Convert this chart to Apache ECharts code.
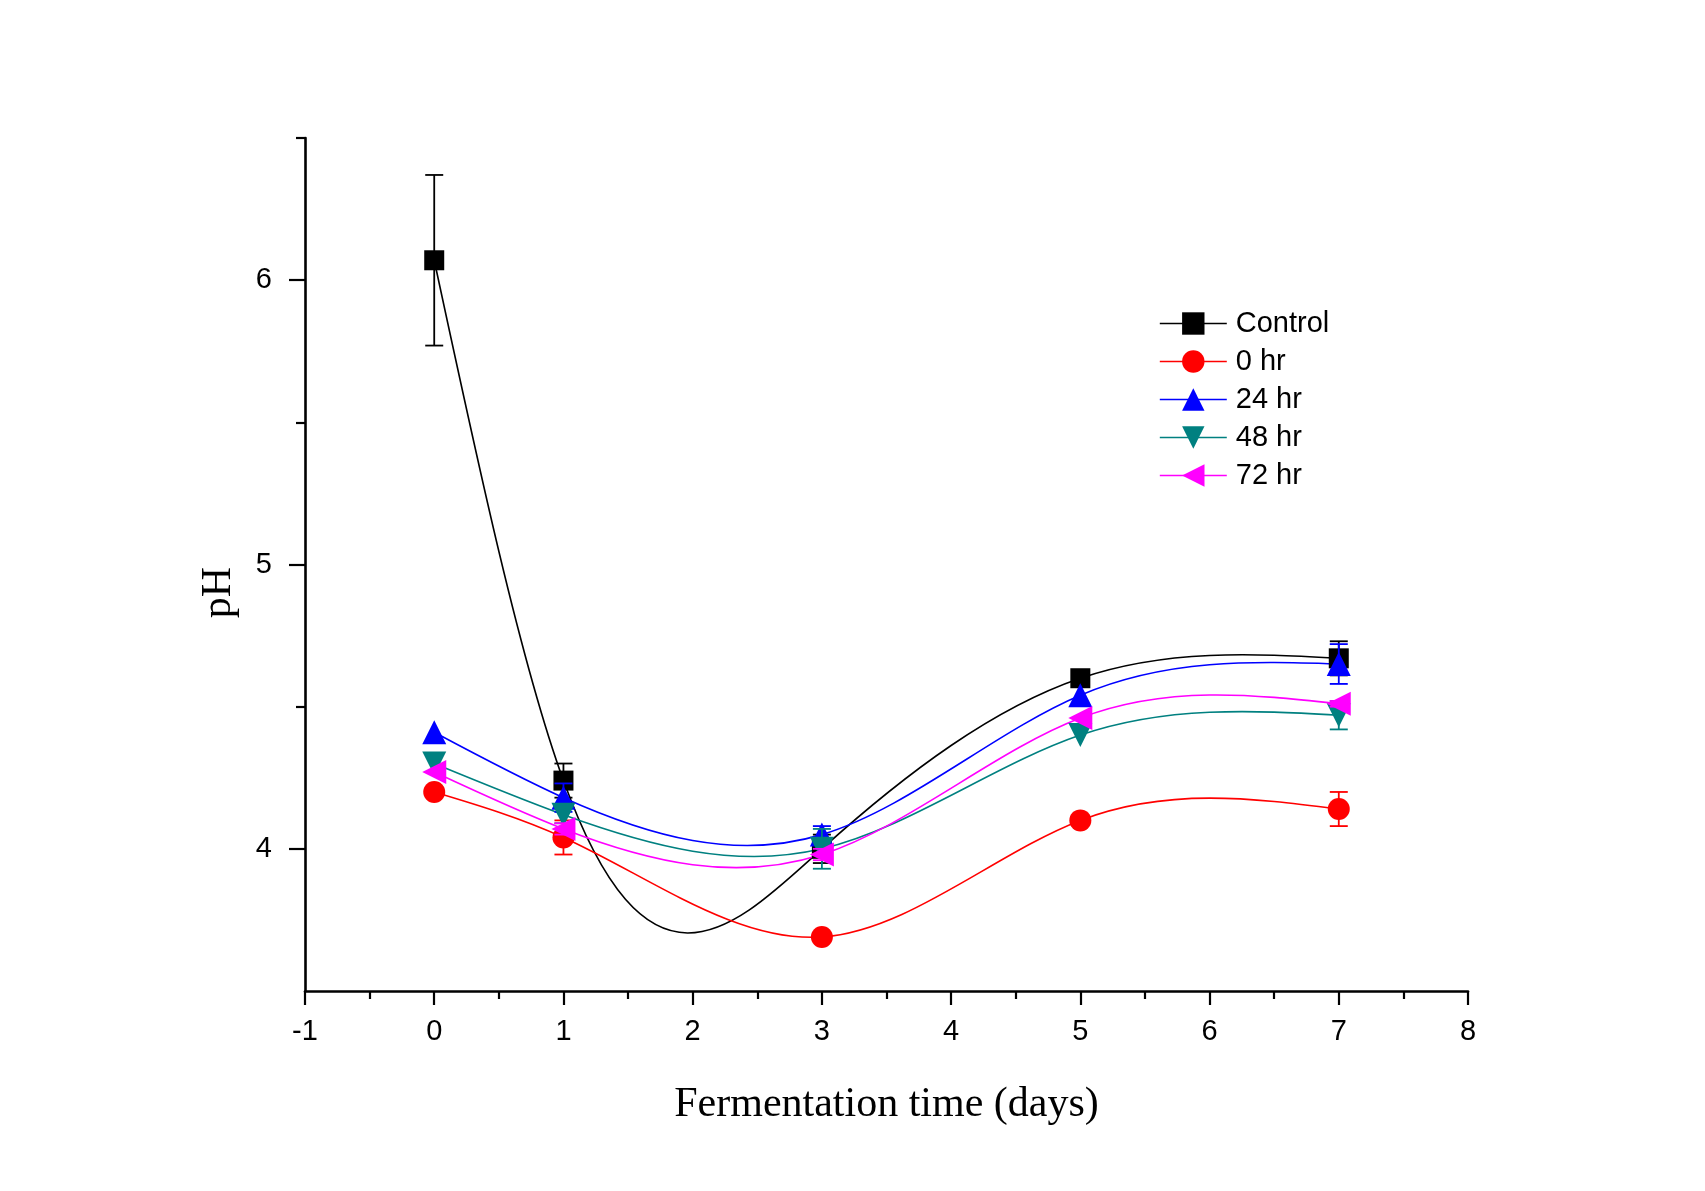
<!DOCTYPE html>
<html>
<head>
<meta charset="utf-8">
<script src="https://cdn.jsdelivr.net/npm/echarts@6/dist/echarts.min.js"></script>
<style>
  html, body { margin: 0; padding: 0; background: #ffffff; }
  #chart { width: 1705px; height: 1191px; }
</style>
</head>
<body>
<div id="chart"></div>
<script>
// ---------------- data ----------------
const xDays = [0, 1, 3, 5, 7];
const seriesNames = ['Control', '0 hr', '24 hr', '48 hr', '72 hr'];

const controlPH = [6.07, 4.24, 4.00, 4.60, 4.67];
const hr0PH     = [4.20, 4.04, 3.69, 4.10, 4.14];
const hr24PH    = [4.41, 4.18, 4.05, 4.54, 4.65];
const hr48PH    = [4.30, 4.12, 4.00, 4.40, 4.47];
const hr72PH    = [4.27, 4.07, 3.98, 4.46, 4.51];

// standard deviations (0 = too small to be seen in the figure)
const controlErr = [0.30, 0.06, 0.05, 0.00, 0.06];
const hr0Err     = [0.00, 0.06, 0.00, 0.00, 0.06];
const hr24Err    = [0.00, 0.05, 0.03, 0.00, 0.07];
const hr48Err    = [0.00, 0.03, 0.07, 0.00, 0.05];
const hr72Err    = [0.00, 0.02, 0.02, 0.00, 0.01];

const xTicks = [-1, 0, 1, 2, 3, 4, 5, 6, 7, 8];
const yMajorTicks = [4, 5, 6];
const yMinorTicks = [4.5, 5.5, 6.5];

const allValues = [controlPH, hr0PH, hr24PH, hr48PH, hr72PH];
const allErrors = [controlErr, hr0Err, hr24Err, hr48Err, hr72Err];

// ---------------- styles ----------------
const styles = [
  { color: '#000000', symbol: 'rect',     rotate: 0,   size: 20 },
  { color: '#FF0000', symbol: 'circle',   rotate: 0,   size: 22 },
  { color: '#0000FF', symbol: 'triangle', rotate: 0,   size: 24 },
  { color: '#008080', symbol: 'triangle', rotate: 180, size: 24 },
  { color: '#FF00FF', symbol: 'triangle', rotate: 90,  size: 24 }
];

// natural cubic spline slopes (rendering helper, like Origin's "Spline" connection)
function splineSlopes(xs, ys) {
  const n = xs.length;
  const h = [], d = [];
  for (let i = 0; i < n - 1; i++) { h[i] = xs[i + 1] - xs[i]; d[i] = (ys[i + 1] - ys[i]) / h[i]; }
  const M = new Array(n).fill(0);
  if (n > 2) {
    const a = [], b = [], c = [], r = [];
    for (let i = 1; i < n - 1; i++) {
      a[i] = h[i - 1]; b[i] = 2 * (h[i - 1] + h[i]); c[i] = h[i]; r[i] = 6 * (d[i] - d[i - 1]);
    }
    const cp = [], rp = [];
    for (let i = 1; i < n - 1; i++) {
      const denom = b[i] - (i > 1 ? a[i] * cp[i - 1] : 0);
      cp[i] = c[i] / denom;
      rp[i] = (r[i] - (i > 1 ? a[i] * rp[i - 1] : 0)) / denom;
    }
    for (let i = n - 2; i >= 1; i--) {
      M[i] = rp[i] - (i < n - 2 ? cp[i] * M[i + 1] : 0);
    }
  }
  const s = [];
  for (let i = 0; i < n - 1; i++) s[i] = d[i] - h[i] * (2 * M[i] + M[i + 1]) / 6;
  s[n - 1] = d[n - 2] + h[n - 2] * (M[n - 2] + 2 * M[n - 1]) / 6;
  return s;
}

function makeCurveRender(values, color) {
  return function (params, api) {
    if (params.dataIndex !== 0) return null;
    const s = splineSlopes(xDays, values);
    const children = [];
    for (let i = 0; i < xDays.length - 1; i++) {
      const h = xDays[i + 1] - xDays[i];
      const p0 = api.coord([xDays[i], values[i]]);
      const p1 = api.coord([xDays[i] + h / 3, values[i] + s[i] * h / 3]);
      const p2 = api.coord([xDays[i + 1] - h / 3, values[i + 1] - s[i + 1] * h / 3]);
      const p3 = api.coord([xDays[i + 1], values[i + 1]]);
      children.push({
        type: 'bezierCurve',
        shape: { x1: p0[0], y1: p0[1], cpx1: p1[0], cpy1: p1[1], cpx2: p2[0], cpy2: p2[1], x2: p3[0], y2: p3[1] },
        style: { stroke: color, lineWidth: 1.6, fill: null }
      });
    }
    return { type: 'group', children: children };
  };
}

function makeErrRender(color) {
  return function (params, api) {
    const x = api.value(0), y = api.value(1), e = api.value(2);
    if (!(e > 0)) return null;
    const top = api.coord([x, y + e]);
    const bot = api.coord([x, y - e]);
    const cap = 9;
    const st = { stroke: color, lineWidth: 1.8 };
    return {
      type: 'group',
      children: [
        { type: 'line', shape: { x1: top[0], y1: top[1], x2: bot[0], y2: bot[1] }, style: st },
        { type: 'line', shape: { x1: top[0] - cap, y1: top[1], x2: top[0] + cap, y2: top[1] }, style: st },
        { type: 'line', shape: { x1: bot[0] - cap, y1: bot[1], x2: bot[0] + cap, y2: bot[1] }, style: st }
      ]
    };
  };
}

const series = [];
seriesNames.forEach(function (name, i) {
  const vals = allValues[i];
  const st = styles[i];
  series.push({
    type: 'custom',
    name: name + ' curve',
    silent: true,
    z: 2,
    data: xDays.map(function (x, j) { return [x, vals[j]]; }),
    encode: { x: 0, y: 1 },
    renderItem: makeCurveRender(vals, st.color)
  });
});
seriesNames.forEach(function (name, i) {
  const vals = allValues[i];
  const errs = allErrors[i];
  const st = styles[i];
  series.push({
    type: 'custom',
    name: name + ' err',
    silent: true,
    z: 10 + i * 2,
    data: xDays.map(function (x, j) { return [x, vals[j], errs[j]]; }),
    encode: { x: 0, y: 1 },
    renderItem: makeErrRender(st.color)
  });
  series.push({
    type: 'line',
    name: name,
    color: st.color,
    z: 11 + i * 2,
    data: xDays.map(function (x, j) { return [x, vals[j]]; }),
    symbol: st.symbol,
    symbolSize: st.size,
    symbolRotate: st.rotate,
    showSymbol: true,
    itemStyle: { color: st.color, opacity: 1 },
    lineStyle: { width: 0, opacity: 0 },
    emphasis: { disabled: true }
  });
});

const chart = echarts.init(document.getElementById('chart'), null, { renderer: 'canvas' });
chart.setOption({
  animation: false,
  backgroundColor: '#ffffff',
  grid: { left: 305, right: 237, top: 138, bottom: 200, containLabel: false },
  legend: {
    data: seriesNames,
    orient: 'vertical',
    left: 1154,
    top: 304,
    itemWidth: 67,
    itemHeight: 28,
    itemGap: 9,
    lineStyle: { width: 1.6, opacity: 1 },
    textStyle: { fontFamily: 'Liberation Sans', fontSize: 29, color: '#000000', padding: [0, 0, 0, 4] }
  },
  xAxis: {
    type: 'value',
    min: xTicks[0],
    max: xTicks[xTicks.length - 1],
    interval: 1,
    name: 'Fermentation time (days)',
    nameLocation: 'middle',
    nameGap: 93,
    nameTextStyle: { fontFamily: 'Liberation Serif', fontSize: 42, color: '#000000' },
    axisLine: { show: true, onZero: false, lineStyle: { color: '#000000', width: 2.6 } },
    axisTick: { show: true, inside: false, length: 14, lineStyle: { color: '#000000', width: 2.2 } },
    minorTick: { show: true, splitNumber: 2, length: 8, lineStyle: { color: '#000000', width: 2.2 } },
    axisLabel: { fontFamily: 'Liberation Sans', fontSize: 29, color: '#000000', margin: 26 },
    splitLine: { show: false },
    minorSplitLine: { show: false }
  },
  yAxis: [
    {
      type: 'value',
      min: 3.5,
      max: 6.5,
      interval: 0.5,
      name: 'pH',
      nameLocation: 'middle',
      nameGap: 65,
      nameRotate: 90,
      nameTextStyle: { fontFamily: 'Liberation Serif', fontSize: 42, color: '#000000', padding: [0, 56, 0, 0] },
      axisLine: { show: true, onZero: false, lineStyle: { color: '#000000', width: 2.6 } },
      axisTick: { show: true, inside: false, length: 16, customValues: yMajorTicks, lineStyle: { color: '#000000', width: 2.2 } },
      axisLabel: { fontFamily: 'Liberation Sans', fontSize: 29, color: '#000000', margin: 33, customValues: yMajorTicks },
      splitLine: { show: false }
    },
    {
      type: 'value',
      min: 3.5,
      max: 6.5,
      interval: 0.5,
      position: 'left',
      axisLine: { show: false, onZero: false },
      axisTick: { show: true, inside: false, length: 9, customValues: yMinorTicks, lineStyle: { color: '#000000', width: 2.2 } },
      axisLabel: { show: false },
      splitLine: { show: false }
    }
  ],
  series: series
});
</script>
</body>
</html>
